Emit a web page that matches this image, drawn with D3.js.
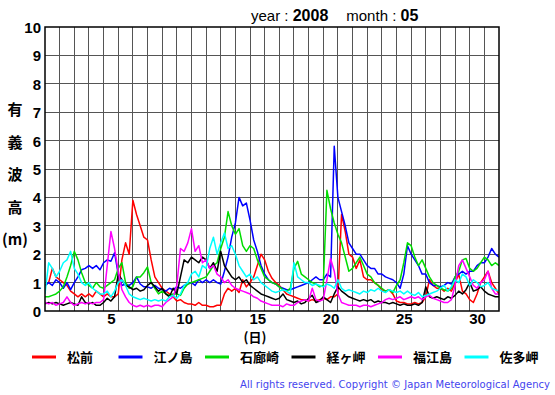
<!DOCTYPE html>
<html>
<head>
<meta charset="utf-8">
<script src="https://cdn.jsdelivr.net/npm/d3@7"></script>
<style>
  body { margin: 0; background: #fff; }
  svg { display: block; }
</style>
</head>
<body>
<div id="chart"></div>
<script>
// wave height, 6-hourly readings (4 per day), day offset 0 .. 31
const stationNames = ['松前', '江ノ島', '石廊崎', '経ヶ岬', '福江島', '佐多岬'];
const stationColors = ['#ff0000', '#0000ff', '#00dd00', '#000000', '#ff00ff', '#00ffff'];

const matsumae = [
  0.9, 1.0, 1.5, 1.2, 1.1, 1.0, 0.9, 0.7, 0.6, 0.5, 0.6, 0.5, 0.6, 0.5, 0.7, 0.6,
  0.5, 0.6, 0.5, 0.5, 0.6, 1.8, 2.4, 2.0, 3.9, 3.4, 3.0, 2.6, 2.5, 1.8, 1.2, 1.0,
  0.8, 0.7, 0.6, 0.5, 0.35, 0.4, 0.3, 0.25, 0.25, 0.2, 0.3, 0.2, 0.2, 0.15, 0.15, 0.2,
  0.2, 0.6, 0.8, 0.7, 0.8, 0.65, 1.1, 0.85, 1.0, 1.2, 1.6, 2.0, 1.8, 1.4, 1.15, 1.0,
  0.9, 0.75, 0.6, 0.55, 0.5, 0.45, 0.4, 0.4, 0.35, 0.4, 0.35, 0.4, 0.45, 0.4, 0.5, 0.5,
  0.6, 3.4, 2.8, 2.0, 1.9, 1.5, 1.8, 1.2, 1.1, 1.1, 1.0, 0.9, 0.75, 0.7, 0.75, 0.6,
  0.35, 0.3, 0.3, 0.25, 0.25, 0.3, 0.25, 0.3, 0.5, 1.1, 0.9, 0.8, 0.8, 0.7, 0.8, 0.7,
  1.0, 1.3, 0.7, 0.6, 0.4, 0.3, 0.6, 1.0, 1.2, 1.4, 1.0, 0.8, 0.6
];
const enoshima = [
  0.9, 1.0, 0.9, 1.1, 1.0, 0.8, 1.0, 0.75, 1.0, 1.2, 1.45, 1.5, 1.6, 1.5, 1.6, 1.45,
  1.7, 1.8, 1.75, 2.05, 1.3, 0.9, 0.95, 0.9, 1.0, 1.2, 0.95, 0.85, 0.85, 0.8, 0.9, 0.8,
  0.75, 0.7, 0.8, 0.75, 0.85, 0.8, 0.9, 0.95, 1.0, 0.9, 1.1, 1.0, 1.1, 1.0, 1.1, 1.0,
  0.95, 1.4, 1.9, 2.6, 3.1, 4.0, 3.7, 3.8, 3.2, 2.5, 2.1, 1.6, 1.3, 1.1, 1.0, 0.95,
  0.85, 0.8, 0.75, 0.75, 0.8, 0.85, 0.9, 0.95, 1.0, 1.1, 1.2, 1.1, 1.1, 1.3, 1.2, 5.8,
  4.0, 3.5, 3.0, 2.4, 2.2, 2.0, 2.0, 1.8, 1.6, 1.5, 1.5, 1.3, 1.3, 1.2, 1.15, 1.1,
  1.0, 0.8, 1.3, 2.3, 2.0, 1.8, 1.6, 1.3, 1.3, 1.0, 0.9, 0.9, 0.85, 0.9, 1.0, 0.95,
  1.2, 1.3, 1.4, 1.3, 1.4, 1.4, 1.6, 1.7, 1.7, 1.9, 2.2, 2.0, 1.9
];
const irozaki = [
  0.5, 0.5, 0.55, 0.6, 0.7, 0.85, 1.2, 1.6, 2.1, 1.8, 1.35, 1.0, 0.9, 0.8, 1.0, 0.85,
  0.8, 0.9, 1.0, 1.1, 1.5, 1.7, 1.0, 0.8, 0.85, 1.2, 1.2, 1.35, 1.55, 1.0, 0.8, 0.6,
  0.7, 0.6, 0.55, 0.6, 0.6, 0.55, 0.8, 0.95, 1.0, 1.05, 1.1, 1.15, 1.2, 1.4, 1.6, 1.7,
  2.2, 2.6, 3.5, 3.0, 2.7, 2.9, 2.3, 2.1, 2.3, 2.2, 1.8, 1.5, 1.2, 1.1, 1.0, 0.95,
  0.85, 0.75, 0.7, 0.8, 1.5, 1.75, 1.3, 1.2, 1.1, 1.0, 0.95, 0.85, 0.9, 4.25, 3.6, 3.1,
  2.7, 2.4, 1.9, 1.4, 1.5, 1.7, 1.9, 1.6, 1.3, 1.2, 1.0, 0.9, 0.8, 0.7, 0.75, 0.65,
  0.9, 1.1, 1.7, 2.4, 2.3, 1.9, 1.6, 1.8, 1.5, 1.2, 1.0, 0.9, 0.8, 0.75, 0.7, 0.8,
  1.2, 1.4, 1.8, 1.85, 1.5, 1.4, 1.5, 1.7, 1.9, 1.8, 1.6, 1.7, 1.6
];
const kyogamisaki = [
  0.25, 0.3, 0.25, 0.3, 0.25, 0.2, 0.25, 0.3, 0.25, 0.2, 0.5, 0.3, 0.25, 0.3, 0.2, 0.2,
  0.3, 0.45, 0.35, 0.5, 1.3, 1.1, 0.9, 0.85, 0.75, 0.8, 0.7, 0.75, 0.9, 1.0, 0.85, 0.7,
  0.8, 0.6, 0.5, 0.8, 0.6, 1.2, 1.8, 1.7, 1.9, 1.8, 1.7, 1.9, 1.8, 1.5, 1.7, 1.4,
  2.1, 1.6, 1.4, 1.2, 1.1, 1.2, 1.0, 1.1, 0.9, 0.8, 0.7, 0.6, 0.55, 0.5, 0.45, 0.4,
  0.45, 0.6, 0.4, 0.35, 0.3, 0.35, 0.25, 0.3, 0.45, 0.55, 0.3, 0.35, 0.5, 0.4, 0.3, 0.6,
  0.85, 0.7, 0.6, 0.5, 0.45, 0.4, 0.35, 0.4, 0.35, 0.4, 0.3, 0.35, 0.3, 0.3, 0.25, 0.3,
  0.25, 0.2, 0.25, 0.2, 0.2, 0.25, 0.2, 0.3, 0.85, 0.5, 0.45, 0.5, 0.45, 0.4, 0.5, 0.45,
  0.55, 0.7, 0.6, 0.75, 1.0, 0.7, 0.75, 0.85, 0.7, 0.6, 0.55, 0.5, 0.5
];
const fukuejima = [
  0.3, 0.25, 0.3, 0.2, 0.25, 0.3, 0.5, 0.3, 0.2, 0.25, 0.3, 0.25, 0.3, 0.25, 0.3, 0.3,
  0.4, 1.6, 2.8, 2.2, 1.4, 0.75, 0.5, 0.3, 0.2, 0.15, 0.2, 0.15, 0.2, 0.15, 0.2, 0.2,
  0.15, 0.3, 0.4, 0.5, 0.9, 2.2, 2.1, 2.4, 2.9, 2.1, 2.3, 1.7, 1.8, 1.5, 1.6, 1.3,
  1.2, 1.0, 1.1, 0.9, 0.8, 0.75, 0.7, 0.65, 0.6, 0.5, 0.45, 0.35, 0.3, 0.25, 0.2, 0.2,
  0.2, 0.15, 0.25, 0.2, 0.2, 0.3, 0.35, 0.4, 0.35, 0.8, 0.4, 0.35, 0.4, 1.1, 1.85, 1.4,
  0.6, 0.3, 0.25, 0.2, 0.2, 0.2, 0.15, 0.2, 0.2, 0.15, 0.2, 0.25, 0.3, 0.4, 0.45, 0.4,
  0.45, 0.5, 0.4, 0.45, 0.5, 0.45, 0.5, 0.4, 0.5, 0.55, 0.45, 0.4, 0.35, 0.3, 0.3, 0.4,
  0.9, 1.6, 1.8, 1.5, 1.2, 0.9, 0.8, 1.0, 1.1, 1.4, 0.8, 0.6, 0.6
];
const satamisaki = [
  0.6, 1.7, 1.5, 1.2, 1.4, 1.7, 1.8, 2.1, 1.5, 1.3, 1.0, 0.9, 1.0, 0.8, 0.7, 0.6,
  0.6, 0.7, 0.5, 0.7, 1.0, 1.1, 0.9, 0.6, 0.5, 0.45, 0.4, 0.45, 0.4, 0.35, 0.4, 0.35,
  0.4, 0.35, 0.5, 0.55, 0.45, 0.6, 0.9, 1.0, 1.3, 1.4, 1.2, 1.6, 1.5, 2.2, 2.6, 2.0,
  2.4, 2.75, 2.2, 2.3, 2.0, 1.6, 1.4, 1.2, 1.3, 1.1, 1.2, 1.0, 0.9, 0.8, 0.7, 0.65,
  0.7, 0.75, 0.7, 0.6, 1.7, 1.2, 1.1, 1.0, 1.0, 0.9, 0.95, 0.9, 0.85, 0.95, 0.9, 0.8,
  1.1, 0.8, 0.7, 0.75, 0.7, 0.65, 0.6, 0.7, 0.65, 0.75, 0.7, 0.8, 0.7, 0.65, 0.75, 0.7,
  0.65, 0.7, 0.6, 0.7, 0.6, 0.55, 0.65, 0.5, 0.55, 0.6, 0.65, 0.7, 0.8, 0.9, 0.7, 0.85,
  1.1, 1.0, 1.3, 1.2, 0.9, 1.1, 1.0, 0.85, 0.9, 1.0, 0.8, 0.75, 0.7
];
const seriesValues = [matsumae, enoshima, irozaki, kyogamisaki, fukuejima, satamisaki];

const yTicks = [0, 1, 2, 3, 4, 5, 6, 7, 8, 9, 10];
const dayLabels = [5, 10, 15, 20, 25, 30];
const yTitle = ['有', '義', '波', '高', '(m)'];

const width = 555;
const height = 395;
const margin = { top: 27, right: 56, bottom: 84, left: 45 };

const svg = d3.select('#chart')
  .append('svg')
  .attr('width', width)
  .attr('height', height);

const x = d3.scaleLinear()
  .domain([0, 31])
  .range([margin.left, width - margin.right]);

const y = d3.scaleLinear()
  .domain([0, 10])
  .range([height - margin.bottom, margin.top]);

// grid
svg.append('g')
  .selectAll('line')
  .data(d3.range(1, 31))
  .enter().append('line')
  .attr('x1', d => x(d)).attr('x2', d => x(d))
  .attr('y1', y(0)).attr('y2', y(10))
  .attr('stroke', '#555')
  .attr('stroke-width', 1)
  .attr('shape-rendering', 'crispEdges');

svg.append('g')
  .selectAll('line')
  .data(yTicks.slice(1, -1))
  .enter().append('line')
  .attr('x1', x(0)).attr('x2', x(31))
  .attr('y1', d => y(d)).attr('y2', d => y(d))
  .attr('stroke', '#555')
  .attr('stroke-width', 1)
  .attr('shape-rendering', 'crispEdges');

// series lines
const line = d3.line()
  .x((d, i) => x(i / 4))
  .y(d => y(d));

svg.append('clipPath').attr('id', 'plotclip')
  .append('rect')
  .attr('x', x(0)).attr('y', y(10))
  .attr('width', x(31) - x(0)).attr('height', y(0) - y(10));

svg.append('g')
  .attr('clip-path', 'url(#plotclip)')
  .selectAll('path')
  .data(seriesValues)
  .enter().append('path')
  .attr('d', d => line(d))
  .attr('fill', 'none')
  .attr('stroke', (d, i) => stationColors[i])
  .attr('stroke-width', 1.5)
  .attr('stroke-linejoin', 'round');

// frame
svg.append('rect')
  .attr('x', x(0)).attr('y', y(10))
  .attr('width', x(31) - x(0)).attr('height', y(0) - y(10))
  .attr('fill', 'none')
  .attr('stroke', '#000')
  .attr('stroke-width', 1.5);

// y axis labels
const yAxis = svg.append('g')
  .attr('transform', `translate(${x(0) - 4}, 0)`)
  .call(d3.axisLeft(y).tickValues(yTicks).tickSize(0).tickPadding(0));
yAxis.select('.domain').remove();
yAxis.selectAll('text')
  .attr('dy', '0.36em')
  .style('font-family', '"Liberation Sans", Arial, sans-serif')
  .style('font-size', '15px')
  .style('font-weight', 'bold')
  .style('fill', '#000');

// x axis labels, centred in the day column
const xAxis = svg.append('g')
  .attr('transform', `translate(0, ${y(0) + 1})`)
  .call(d3.axisBottom(x).tickValues(dayLabels.map(d => d - 0.5)).tickSize(0).tickPadding(0)
    .tickFormat((d, i) => dayLabels[i]));
xAxis.select('.domain').remove();
xAxis.selectAll('text')
  .attr('dy', '0.8em')
  .style('font-family', '"Liberation Sans", Arial, sans-serif')
  .style('font-size', '15px')
  .style('font-weight', 'bold')
  .style('fill', '#000');

// title
const title = svg.append('text')
  .attr('x', 251)
  .attr('y', 21)
  .style('font-family', '"Liberation Sans", Arial, sans-serif')
  .style('font-size', '15px')
  .style('fill', '#000');
title.append('tspan').text('year : ');
title.append('tspan').style('font-weight', 'bold').style('font-size', '16px').text('2008');
title.append('tspan').attr('dx', 18).text('month : ');
title.append('tspan').style('font-weight', 'bold').style('font-size', '16px').text('05');

// y title
svg.append('g')
  .selectAll('text')
  .data(yTitle)
  .enter().append('text')
  .attr('x', 15)
  .attr('y', (d, i) => 110 + i * 32.5)
  .attr('dy', '0.35em')
  .attr('text-anchor', 'middle')
  .style('font-family', '"Noto Sans CJK JP", sans-serif')
  .style('font-size', '15px')
  .style('font-weight', 'bold')
  .text(d => d);

// x title
svg.append('text')
  .attr('x', 255)
  .attr('y', 337)
  .attr('dy', '0.35em')
  .attr('text-anchor', 'middle')
  .style('font-family', '"Noto Sans CJK JP", sans-serif')
  .style('font-size', '13px')
  .style('font-weight', 'bold')
  .text('(日)');

// legend
const legend = svg.append('g')
  .selectAll('g')
  .data(stationNames)
  .enter().append('g')
  .attr('transform', (d, i) => `translate(${32 + i * 86.5}, 357)`);

legend.append('line')
  .attr('x1', 0).attr('x2', 24)
  .attr('y1', 0).attr('y2', 0)
  .attr('stroke', (d, i) => stationColors[i])
  .attr('stroke-width', 3);

legend.append('text')
  .attr('x', 35)
  .attr('dy', '0.35em')
  .style('font-family', '"Noto Sans CJK JP", sans-serif')
  .style('font-size', '13px')
  .style('font-weight', 'bold')
  .text(d => d);

// copyright
svg.append('text')
  .attr('x', 240)
  .attr('y', 388)
  .attr('textLength', 310)
  .attr('lengthAdjust', 'spacing')
  .style('font-family', '"DejaVu Sans", sans-serif')
  .style('font-size', '10px')
  .style('fill', '#4444ee')
  .text('All rights reserved. Copyright © Japan Meteorological Agency');
</script>
</body>
</html>
